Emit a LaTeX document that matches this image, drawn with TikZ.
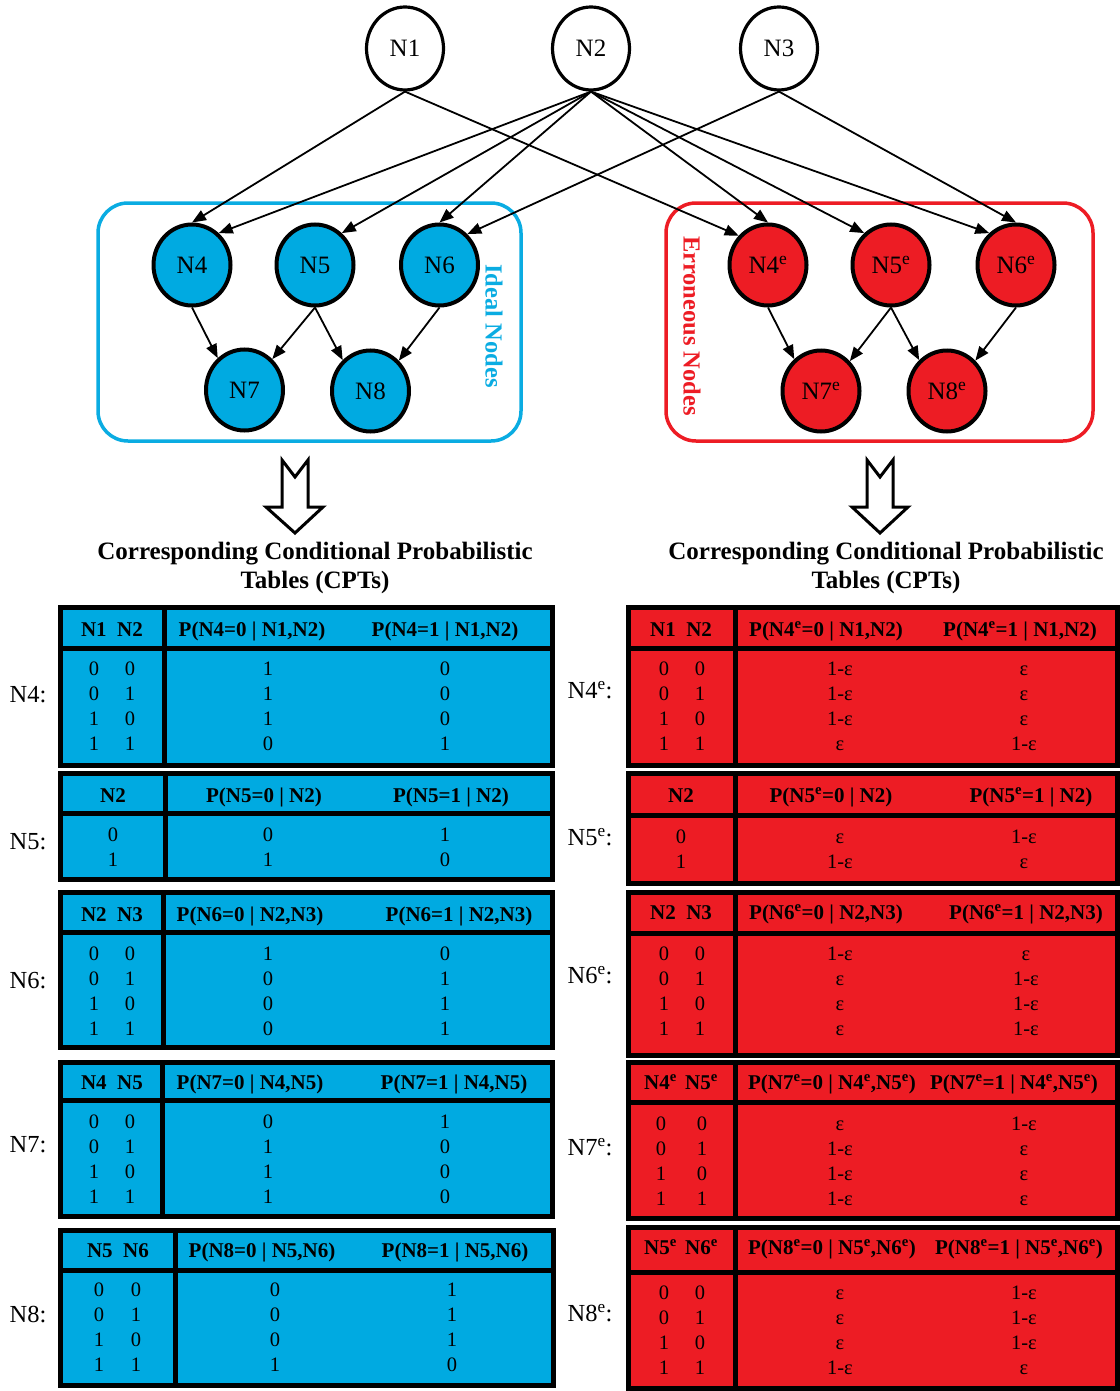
\documentclass[tikz,border=0pt]{standalone}
\usepackage{fontspec}
\setmainfont{Liberation Serif}
\usetikzlibrary{arrows.meta,shapes.geometric}
\definecolor{cyanfill}{RGB}{0,170,225}
\definecolor{cyanline}{RGB}{10,172,226}
\definecolor{redfill}{RGB}{237,28,36}
\newcommand{\supe}{\textsuperscript{e}}
\newcommand{\cptframe}[8]{%
  \draw[tblline, fill=#2] (#3,#6) rectangle (#5,#8);
  \draw[tblline] (#3,#7) -- (#5,#7);
  \draw[tblline] (#4,#6) -- (#4,#8);
  \coordinate (#1) at (#4,#7);
}
\newcommand{\cptfour}[7]{%
  \foreach \cA/\cB/\cC/\cD [count=\ri] in {#7} {
    \node[val] (#1r\ri a) at (#3,{#2+25*(\ri-1)}) {\cA};
    \node[val] (#1r\ri b) at (#4,{#2+25*(\ri-1)}) {\cB};
    \node[val] (#1r\ri c) at (#5,{#2+25*(\ri-1)}) {\cC};
    \node[val] (#1r\ri d) at (#6,{#2+25*(\ri-1)}) {\cD};
  }
}
\newcommand{\cpttwo}[6]{%
  \foreach \cA/\cC/\cD [count=\ri] in {#6} {
    \node[val] (#1r\ri a) at (#3,{#2+25*(\ri-1)}) {\cA};
    \node[val] (#1r\ri c) at (#4,{#2+25*(\ri-1)}) {\cC};
    \node[val] (#1r\ri d) at (#5,{#2+25*(\ri-1)}) {\cD};
  }
}
\begin{document}
\begin{tikzpicture}[x=1pt,y=-1pt,
  topnode/.style={ellipse, draw, line width=3.2pt, minimum width=77pt, minimum height=83pt, inner sep=0pt, font=\fontsize{25}{28}\selectfont},
  idealnode/.style={topnode, fill=cyanfill, line width=4pt, minimum width=77pt, minimum height=81pt},
  errnode/.style={topnode, fill=redfill, line width=4pt, minimum width=77pt, minimum height=81pt},
  edge/.style={line width=1.8pt, -{Triangle[length=14pt,width=11pt]}},
  group/.style={rounded corners=30pt, line width=3.5pt},
  grouplbl/.style={rotate=-90, font=\bfseries\fontsize{24.5}{28}\selectfont},
  bigarrow/.style={draw, fill=white, line width=3pt, line join=miter},
  title/.style={font=\bfseries\fontsize{25}{29}\selectfont, align=center},
  tblline/.style={line width=5pt, line join=miter},
  hdr/.style={font=\bfseries\fontsize{21}{24}\selectfont, inner sep=0pt, text height=14pt, text depth=0pt},
  val/.style={font=\fontsize{20.5}{24}\selectfont, inner sep=0pt, text height=13.8pt, text depth=0pt},
  rowlbl/.style={font=\fontsize{24.5}{28}\selectfont, inner sep=0pt, text height=16.5pt, text depth=0pt},
]
\useasboundingbox (0,0) rectangle (1119,1391);

% ---------- groups ----------
\draw[group, cyanline] (98,203) rectangle (521,441);
\draw[group, redfill] (666,203) rectangle (1093,441);
\node[grouplbl, text=cyanline] (ideallbl) at (494,326) {Ideal Nodes};
\node[grouplbl, text=redfill] (errlbl) at (692,326) {Erroneous Nodes};

% ---------- nodes ----------
\node[topnode] (n1) at (405,48.5) {N1};
\node[topnode] (n2) at (591,48.5) {N2};
\node[topnode] (n3) at (779,48.5) {N3};

\node[idealnode] (n4) at (192,265) {N4};
\node[idealnode] (n5) at (315,265) {N5};
\node[idealnode] (n6) at (439.5,265) {N6};
\node[idealnode] (n7) at (244.5,390) {N7};
\node[idealnode] (n8) at (370.5,391) {N8};

\node[errnode] (e4) at (768,265) {N4\supe};
\node[errnode] (e5) at (891,265) {N5\supe};
\node[errnode] (e6) at (1016,265) {N6\supe};
\node[errnode] (e7) at (821,391) {N7\supe};
\node[errnode] (e8) at (947,391) {N8\supe};

% ---------- edges ----------
\draw[edge] (n1.south) -- (n4.north);
\draw[edge] (n1.south) -- (e4.135);
\draw[edge] (n2.south) -- (n4.50);
\draw[edge] (n2.south) -- (n5.50);
\draw[edge] (n2.south) -- (n6.north);
\draw[edge] (n2.south) -- (e4.north);
\draw[edge] (n2.south) -- (e5.130);
\draw[edge] (n2.south) -- (e6.130);
\draw[edge] (n3.south) -- (n6.48);
\draw[edge] (n3.south) -- (e6.north);

\draw[edge] (n4.south) -- (n7.130);
\draw[edge] (n5.south) -- (n7.48);
\draw[edge] (n5.south) -- (n8.132);
\draw[edge] (n6.south) -- (n8.47);
\draw[edge] (e4.south) -- (e7.130);
\draw[edge] (e5.south) -- (e7.46);
\draw[edge] (e5.south) -- (e8.132);
\draw[edge] (e6.south) -- (e8.47);

% ---------- big arrows ----------
\draw[bigarrow] (282,460) -- (295,477) -- (308,460) -- (308,507) -- (323,507) -- (295,533) -- (266,507) -- (282,507) -- cycle;
\draw[bigarrow] (867,460) -- (880,477) -- (893,460) -- (893,507) -- (908,507) -- (880,533) -- (852,507) -- (867,507) -- cycle;

\node[title] (ltitle) at (315,567.5) {Corresponding Conditional Probabilistic\\Tables (CPTs)};
\node[title] (rtitle) at (886,567.5) {Corresponding Conditional Probabilistic\\Tables (CPTs)};

% ---------- left tables ----------
\cptframe{L1}{cyanfill}{60}{164}{552}{607}{648}{765}
\node[hdr] (L1h0) at (112,629) {N1\hspace{0.5em}N2};
\node[hdr] (L1h1) at (252,629) {P(N4=0 | N1,N2)};
\node[hdr] (L1h2) at (445,629) {P(N4=1 | N1,N2)};
\cptfour{L1}{669}{94}{130}{268}{445}{0/0/1/0,0/1/1/0,1/0/1/0,1/1/0/1}
\node[rowlbl] (L1lbl) at (28,694) {N4:};

\cptframe{L2}{cyanfill}{60}{165}{552}{773}{813}{879}
\node[hdr] (L2h0) at (113,795) {N2};
\node[hdr] (L2h1) at (264,795) {P(N5=0 | N2)};
\node[hdr] (L2h2) at (451,795) {P(N5=1 | N2)};
\cpttwo{L2}{835}{113}{268}{445}{0/0/1,1/1/0}
\node[rowlbl] (L2lbl) at (28,841) {N5:};

\cptframe{L3}{cyanfill}{60}{163}{552}{892}{932}{1047}
\node[hdr] (L3h0) at (112,914) {N2\hspace{0.5em}N3};
\node[hdr] (L3h1) at (250,914) {P(N6=0 | N2,N3)};
\node[hdr] (L3h2) at (459,914) {P(N6=1 | N2,N3)};
\cptfour{L3}{954}{94}{130}{268}{445}{0/0/1/0,0/1/0/1,1/0/0/1,1/1/0/1}
\node[rowlbl] (L3lbl) at (28,980) {N6:};

\cptframe{L4}{cyanfill}{60}{162}{552}{1062}{1100}{1216}
\node[hdr] (L4h0) at (112,1082) {N4\hspace{0.5em}N5};
\node[hdr] (L4h1) at (250,1082) {P(N7=0 | N4,N5)};
\node[hdr] (L4h2) at (454,1082) {P(N7=1 | N4,N5)};
\cptfour{L4}{1122}{94}{130}{268}{445}{0/0/0/1,0/1/1/0,1/0/1/0,1/1/1/0}
\node[rowlbl] (L4lbl) at (28,1144) {N7:};

\cptframe{L5}{cyanfill}{60}{175}{553}{1230}{1270}{1385}
\node[hdr] (L5h0) at (118,1250) {N5\hspace{0.5em}N6};
\node[hdr] (L5h1) at (262,1250) {P(N8=0 | N5,N6)};
\node[hdr] (L5h2) at (455,1250) {P(N8=1 | N5,N6)};
\cptfour{L5}{1290}{99}{136}{275}{452}{0/0/0/1,0/1/0/1,1/0/0/1,1/1/1/0}
\node[rowlbl] (L5lbl) at (28,1314) {N8:};

% ---------- right tables ----------
\cptframe{R1}{redfill}{628}{735}{1117}{607}{648}{765}
\node[hdr] (R1h0) at (681,629) {N1\hspace{0.5em}N2};
\node[hdr] (R1h1) at (826,629) {P(N4\supe=0 | N1,N2)};
\node[hdr] (R1h2) at (1020,629) {P(N4\supe=1 | N1,N2)};
\cptfour{R1}{669}{664}{700}{840}{1024}{0/0/1-ε/ε,0/1/1-ε/ε,1/0/1-ε/ε,1/1/ε/1-ε}
\node[rowlbl] (R1lbl) at (590,690) {N4\supe:};

\cptframe{R2}{redfill}{628}{735}{1117}{773}{815}{883}
\node[hdr] (R2h0) at (681,795) {N2};
\node[hdr] (R2h1) at (831,795) {P(N5\supe=0 | N2)};
\node[hdr] (R2h2) at (1031,795) {P(N5\supe=1 | N2)};
\cpttwo{R2}{837}{681}{840}{1024}{0/ε/1-ε,1/1-ε/ε}
\node[rowlbl] (R2lbl) at (590,837) {N5\supe:};

\cptframe{R3}{redfill}{628}{735}{1117}{892}{933}{1055}
\node[hdr] (R3h0) at (681,912) {N2\hspace{0.5em}N3};
\node[hdr] (R3h1) at (826,912) {P(N6\supe=0 | N2,N3)};
\node[hdr] (R3h2) at (1026,912) {P(N6\supe=1 | N2,N3)};
\cptfour{R3}{954}{664}{700}{840}{1026}{0/0/1-ε/ε,0/1/ε/1-ε,1/0/ε/1-ε,1/1/ε/1-ε}
\node[rowlbl] (R3lbl) at (590,975) {N6\supe:};

\cptframe{R4}{redfill}{628}{735}{1117}{1062}{1102}{1218}
\node[hdr] (R4h0) at (681,1082) {N4\supe\hspace{0.4em}N5\supe};
\node[hdr] (R4h1) at (832,1082) {P(N7\supe=0 | N4\supe,N5\supe)};
\node[hdr] (R4h2) at (1014,1082) {P(N7\supe=1 | N4\supe,N5\supe)};
\cptfour{R4}{1124}{661}{702}{840}{1024}{0/0/ε/1-ε,0/1/1-ε/ε,1/0/1-ε/ε,1/1/1-ε/ε}
\node[rowlbl] (R4lbl) at (590,1147) {N7\supe:};

\cptframe{R5}{redfill}{628}{735}{1117}{1227}{1272}{1388}
\node[hdr] (R5h0) at (681,1247) {N5\supe\hspace{0.4em}N6\supe};
\node[hdr] (R5h1) at (832,1247) {P(N8\supe=0 | N5\supe,N6\supe)};
\node[hdr] (R5h2) at (1019,1247) {P(N8\supe=1 | N5\supe,N6\supe)};
\cptfour{R5}{1293}{664}{700}{840}{1024}{0/0/ε/1-ε,0/1/ε/1-ε,1/0/ε/1-ε,1/1/1-ε/ε}
\node[rowlbl] (R5lbl) at (590,1313) {N8\supe:};
\end{tikzpicture}
\end{document}
